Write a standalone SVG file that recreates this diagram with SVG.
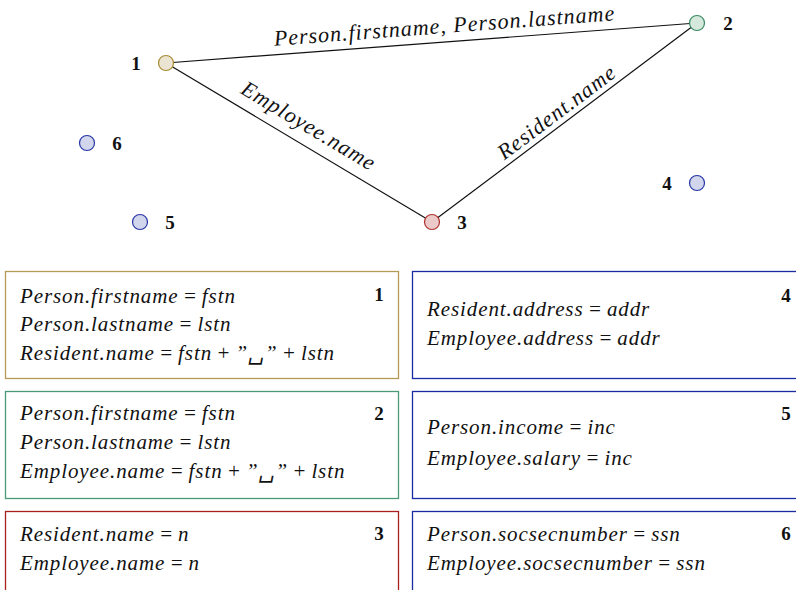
<svg xmlns="http://www.w3.org/2000/svg" width="796" height="590" viewBox="0 0 796 590">
<style>
.it{font-family:"Liberation Serif","DejaVu Serif",serif;font-style:italic;font-size:21px;letter-spacing:0.9px;word-spacing:-2px;fill:#111}
.el{font-family:"Liberation Serif","DejaVu Serif",serif;font-style:italic;font-size:22px;letter-spacing:1px;fill:#111}
.num{font-family:"Liberation Serif","DejaVu Serif",serif;font-weight:bold;font-size:19px;fill:#111}
.edge{stroke:#111;stroke-width:1.2;fill:none}
.box{fill:#fff;stroke-width:1.3}
</style>
<rect width="796" height="590" fill="#fff"/>
<g id="connectors">
<line class="edge" x1="166" y1="63" x2="697" y2="23"/>
<line class="edge" x1="166" y1="63" x2="432" y2="222"/>
<line class="edge" x1="432" y1="222" x2="697" y2="23"/>
<text class="el" text-anchor="middle" transform="translate(445,33) rotate(-4.3)">Person.firstname, Person.lastname</text>
<text class="el" text-anchor="middle" transform="translate(305,132) rotate(30.9)">Employee.name</text>
<text class="el" text-anchor="middle" transform="translate(561,118) rotate(-36.9)">Resident.name</text>
</g>
<g id="node1"><circle cx="166" cy="63" r="7.5" fill="#ebe4d2" stroke="#a88a30" stroke-width="1.2"/><text class="num" x="136" y="70" text-anchor="middle">1</text></g>
<g id="node2"><circle cx="697" cy="23" r="7.5" fill="#d4e8dc" stroke="#3a8a62" stroke-width="1.2"/><text class="num" x="728" y="30" text-anchor="middle">2</text></g>
<g id="node3"><circle cx="432" cy="222" r="7.5" fill="#eccaca" stroke="#b03030" stroke-width="1.2"/><text class="num" x="462" y="229" text-anchor="middle">3</text></g>
<g id="node4"><circle cx="697" cy="183" r="7.5" fill="#d2d6ec" stroke="#2535a5" stroke-width="1.2"/><text class="num" x="667" y="190" text-anchor="middle">4</text></g>
<g id="node5"><circle cx="140" cy="222" r="7.5" fill="#d2d6ec" stroke="#2535a5" stroke-width="1.2"/><text class="num" x="170" y="229" text-anchor="middle">5</text></g>
<g id="node6"><circle cx="87" cy="143" r="7.5" fill="#d2d6ec" stroke="#2535a5" stroke-width="1.2"/><text class="num" x="117" y="150" text-anchor="middle">6</text></g>

<g id="box1"><rect class="box" x="5.5" y="271.5" width="393" height="107" stroke="#b49a55"/>
<text class="num" x="379" y="301" text-anchor="middle">1</text>
<text class="it" x="20" y="303">Person.firstname = fstn</text>
<text class="it" x="20" y="331">Person.lastname = lstn</text>
<text class="it" x="20" y="360">Resident.name = fstn + ”␣” + lstn</text></g>
<g id="box2"><rect class="box" x="5.5" y="391.5" width="393" height="107" stroke="#4a9a78"/>
<text class="num" x="379" y="420" text-anchor="middle">2</text>
<text class="it" x="20" y="420">Person.firstname = fstn</text>
<text class="it" x="20" y="449">Person.lastname = lstn</text>
<text class="it" x="20" y="478">Employee.name = fstn + ”␣” + lstn</text></g>
<g id="box3"><rect class="box" x="5.5" y="511.5" width="393" height="100" stroke="#a82020"/>
<text class="num" x="379" y="540" text-anchor="middle">3</text>
<text class="it" x="20" y="541">Resident.name = n</text>
<text class="it" x="20" y="570">Employee.name = n</text></g>
<g id="box4"><rect class="box" x="412.5" y="271.5" width="400" height="107" stroke="#1a2aa0"/>
<text class="num" x="786" y="302" text-anchor="middle">4</text>
<text class="it" x="427" y="316">Resident.address = addr</text>
<text class="it" x="427" y="345">Employee.address = addr</text></g>
<g id="box5"><rect class="box" x="412.5" y="391.5" width="400" height="107" stroke="#1a2aa0"/>
<text class="num" x="786" y="420" text-anchor="middle">5</text>
<text class="it" x="427" y="434">Person.income = inc</text>
<text class="it" x="427" y="465">Employee.salary = inc</text></g>
<g id="box6"><rect class="box" x="412.5" y="511.5" width="400" height="100" stroke="#1a2aa0"/>
<text class="num" x="786" y="540" text-anchor="middle">6</text>
<text class="it" x="427" y="541">Person.socsecnumber = ssn</text>
<text class="it" x="427" y="570">Employee.socsecnumber = ssn</text></g>
</svg>
